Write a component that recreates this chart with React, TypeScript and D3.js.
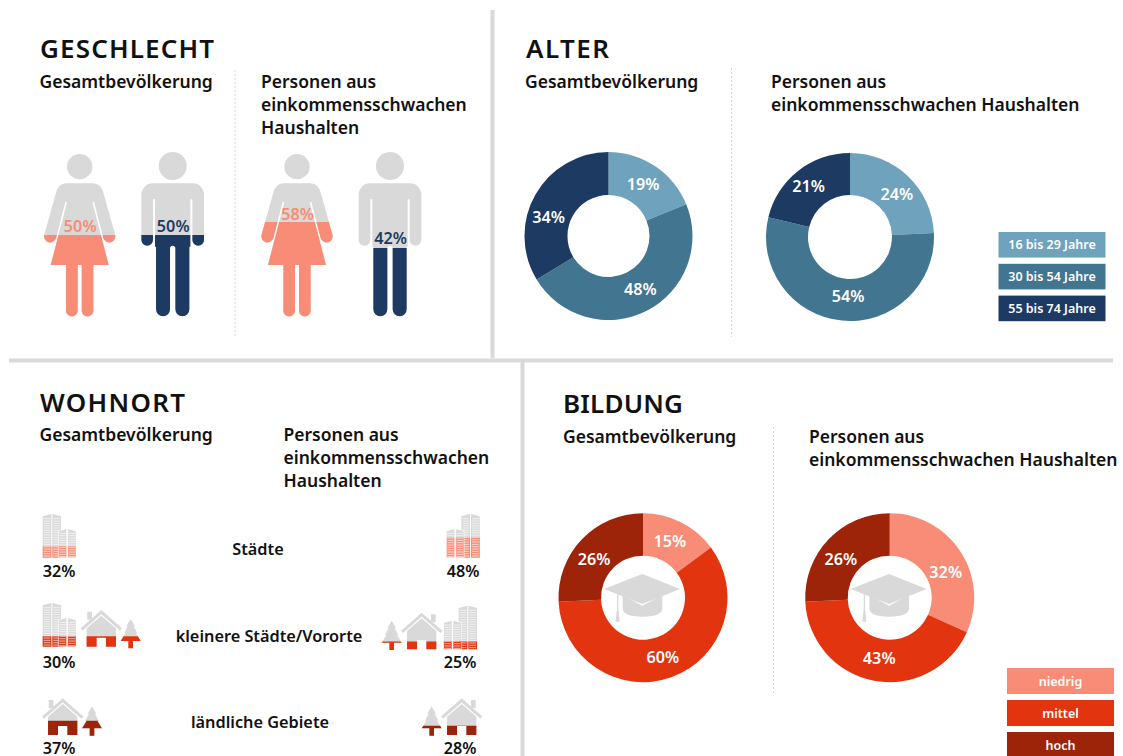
import React from "react";
import * as d3 from "d3";

const FONT = "'Noto Sans', sans-serif";
const GRAY = "#d9d9d9";
const SALMON = "#f88c76";
const NAVY = "#1d3a63";
const BLUES = ["#6fa3bd", "#42758f", "#1d3a63"];
const REDS = ["#f88c76", "#e2340f", "#9e2409"];

const ageLabels = ["16 bis 29 Jahre", "30 bis 54 Jahre", "55 bis 74 Jahre"];
const ageTotal = [19, 48, 34];
const ageLow = [24, 54, 21];
const eduLabels = ["niedrig", "mittel", "hoch"];
const eduTotal = [15, 60, 26];
const eduLow = [32, 43, 26];
const genderFigures = [
  { kind: "f", value: 50, cx: 79.7 },
  { kind: "m", value: 50, cx: 172.7 },
  { kind: "f", value: 58, cx: 297 },
  { kind: "m", value: 42, cx: 390 },
];
const placeLabels = ["Städte", "kleinere Städte/Vororte", "ländliche Gebiete"];
const placeTotal = [32, 30, 37];
const placeLow = [48, 25, 28];

const WOMAN =
  "M-40,130 H40 Q66,130 73,165 L106,283 A18,18 0 0 1 71,295 L43,186 H38 L87,375 H41 V512 A17.5,17.5 0 0 1 6,512 V375 H-6 V512 A17.5,17.5 0 0 1 -41,512 V375 H-87 L-38,186 H-43 L-71,295 A18,18 0 0 1 -106,283 L-73,165 Q-66,130 -40,130 Z";
const MAN =
  "M-60,130 H60 A34,34 0 0 1 94,164 V300 A17.5,17.5 0 0 1 59,300 V178 H53 V320 L50,320 V508 A21,21 0 0 1 8,508 V325 A8,8 0 0 0 -8,325 V508 A21,21 0 0 1 -50,508 V320 L-53,320 V178 H-59 V300 A17.5,17.5 0 0 1 -94,300 V164 A34,34 0 0 1 -60,130 Z";

const figureY = d3.scaleLinear().domain([0, 100]).range([317, 153]);
const fillHeight = d3.scaleLinear().domain([25, 48]).range([7.7, 20.3]);

function Figure({ kind, value, cx, id }: any) {
  const color = kind === "f" ? SALMON : NAVY;
  const level = figureY(value);
  const path = kind === "f" ? WOMAN : MAN;
  const headR = kind === "f" ? 38 : 42;
  const headY = kind === "f" ? 80 : 78;
  const labelY = kind === "f" ? (value === 50 ? 231.5 : 219.5) : value === 50 ? 231.5 : 244;
  return (
    <g>
      <g transform={`translate(${cx},140) scale(${1 / 3})`}>
        <circle cx={0} cy={headY} r={headR} fill={GRAY} />
        <path d={path} fill={GRAY} />
      </g>
      <clipPath id={id}>
        <rect x={cx - 50} y={level} width={100} height={317 - level + 2} />
      </clipPath>
      <g clipPath={`url(#${id})`}>
        <g transform={`translate(${cx},140) scale(${1 / 3})`}>
          <path d={path} fill={color} />
        </g>
      </g>
      <text x={cx + 0.5} y={labelY} textAnchor="middle" fontSize={16.2} fontWeight={600} fill={color}>
        {value}%
      </text>
    </g>
  );
}

function Donut({ values, cx, cy, colors, R, r, labelR, hat, nudge }: any) {
  const pie = d3.pie<number>().sort(null).value((d) => d);
  const arc = d3.arc<any>().innerRadius(r).outerRadius(R);
  const labelArc = d3.arc<any>().innerRadius(labelR).outerRadius(labelR);
  const arcs = pie(values);
  return (
    <g transform={`translate(${cx},${cy})`}>
      {arcs.map((a, i) => (
        <path key={i} d={arc(a) as string} fill={colors[i]} />
      ))}
      {hat && <Hat />}
      {arcs.map((a, i) => {
        const [x, y] = labelArc.centroid(a);
        return (
          <text key={i} x={x + nudge[i][0]} y={y + 5.5 + nudge[i][1]} textAnchor="middle" fontSize={16.2} fontWeight={600} fill="#fff">
            {values[i]}%
          </text>
        );
      })}
    </g>
  );
}

function Hat() {
  return (
    <g transform={`scale(${1 / 3})`} fill={GRAY}>
      <path d="M-61,-8 L-61,32 Q-61,57 -2,57 Q58,57 58,32 L58,-8 L-2,24 Z" />
      <path d="M-2,-71 L111,-26 L-2,19 L-117,-26 Z" />
      <rect x={-78} y={-16} width={4} height={58} />
      <path d="M-79,40 H-73 L-70,72 H-82 Z" />
    </g>
  );
}

function Legend({ labels, colors, x, y, w, h, step, size }: any) {
  return (
    <g>
      {labels.map((l: string, i: number) => (
        <g key={l}>
          <rect x={x} y={y + i * step} width={w} height={h} fill={colors[i]} />
          <text x={x + w / 2} y={y + i * step + h / 2 + size * 0.36} textAnchor="middle" fontSize={size} fontWeight={600} fill="#fff">
            {l}
          </text>
        </g>
      ))}
    </g>
  );
}

/* --- Pictograms, drawn in 1/3 px units with baseline at y = 0 --- */
function CityShape() {
  const stripes = (x0: number, x1: number, top: number) =>
    d3.range(top + 7, -2, 7).map((y) => (
      <line key={`${x0}-${y}`} x1={x0 + 3} x2={x1 - 3} y1={y} y2={y} stroke="#fff" strokeWidth={2.6} strokeOpacity={0.75} />
    ));
  return (
    <g>
      <path d="M0,0 V-124 L26,-131 V0 Z M29,0 V-131 L55,-124 V0 Z" />
      {stripes(0, 26, -124)}
      {stripes(29, 55, -124)}
      <path d="M47,0 V-80 L72,-87 V0 Z M75,0 V-87 L100,-80 V0 Z" stroke="#fff" strokeWidth={2} />
      {stripes(47, 72, -80)}
      {stripes(75, 100, -80)}
    </g>
  );
}
function HouseShape() {
  return (
    <g>
      <path d="M-44,-55 L0,-93 L44,-55 V0 H14 V-27 H-14 V0 H-44 Z" />
      <path d="M-59,-52 L0,-104 L59,-52" fill="none" stroke="currentColor" strokeWidth={9} />
      <rect x={-42} y={-105} width={14} height={24} />
    </g>
  );
}
function TreeShape() {
  return <path d="M0,-88 L13,-66 H9 L20,-45 H16 L30,-22 H7 V0 H-7 V-22 H-30 L-16,-45 H-20 L-9,-66 H-13 Z" />;
}

function Pictogram({ kind, x, bottom, mirror, level, color, id }: any) {
  const Shape = kind === "city" ? CityShape : kind === "house" ? HouseShape : TreeShape;
  const tf = `translate(${x},${bottom}) scale(${mirror ? -1 / 3 : 1 / 3},${1 / 3})`;
  const clipX = kind === "city" && mirror ? x - 40 : kind === "city" ? x - 2 : x - 25;
  return (
    <g>
      <g transform={tf} fill={GRAY} color={GRAY}>
        <Shape />
      </g>
      <clipPath id={id}>
        <rect x={clipX} y={level} width={kind === "city" ? 42 : 50} height={bottom + 4 - level} />
      </clipPath>
      <g clipPath={`url(#${id})`}>
        <g transform={tf} fill={color} color={color}>
          <Shape />
        </g>
      </g>
    </g>
  );
}

const placeRows = [
  {
    total: [{ kind: "city", x: 42.7, bottom: 557.7 }],
    low: [{ kind: "city", x: 479.7, bottom: 557.7, mirror: true }],
    rowBottomT: 557.7,
    rowBottomL: 557.7,
  },
  {
    total: [
      { kind: "city", x: 42.7, bottom: 646.7 },
      { kind: "house", x: 101.3, bottom: 646.7 },
      { kind: "tree", x: 130.7, bottom: 648.3 },
    ],
    low: [
      { kind: "tree", x: 391.7, bottom: 650, mirror: true },
      { kind: "house", x: 421.7, bottom: 649.3, mirror: true },
      { kind: "city", x: 477, bottom: 649.3, mirror: true },
    ],
    rowBottomT: 646.7,
    rowBottomL: 649.3,
  },
  {
    total: [
      { kind: "house", x: 62.7, bottom: 735 },
      { kind: "tree", x: 92, bottom: 735.7 },
    ],
    low: [
      { kind: "tree", x: 431.7, bottom: 735.7, mirror: true },
      { kind: "house", x: 461.7, bottom: 735, mirror: true },
    ],
    rowBottomT: 735,
    rowBottomL: 735,
  },
];

function Lines({ x, ys, lines }: any) {
  return (
    <text fontSize={17.5} fontWeight={600} fill="#111">
      {lines.map((l: string, i: number) => (
        <tspan key={i} x={x} y={ys + i * 23}>
          {l}
        </tspan>
      ))}
    </text>
  );
}

const SUB = "Gesamtbevölkerung";
const LOW3 = ["Personen aus", "einkommensschwachen", "Haushalten"];
const LOW2 = ["Personen aus", "einkommensschwachen Haushalten"];

const N_AGE_T = [[0, 0], [4, -2], [-6, 12]];
const N_AGE_L = [[4, 2], [4, -2], [-3, -2]];
const N_EDU_T = [[-1, -1], [-1, 1], [-4, 5]];
const N_EDU_L = [[4, 9], [1, 0], [-4, 5]];

export default function App() {
  const labelXT = [59, 59, 59];
  const labelXL = [463, 460, 460];
  const labelBase = [576.5, 668, 754];
  const centerX = [258, 269, 260];
  const centerY = [555, 642, 728];
  return (
    <svg width={1123} height={756} style={{ position: "absolute", left: 0, top: 0, display: "block" }} fontFamily={FONT}>
      <rect width={1123} height={756} fill="#fff" />
      {/* dividers */}
      <g fill={GRAY}>
        <rect x={490.5} y={10} width={4} height={348} />
        <rect x={9} y={358.5} width={1104} height={4} />
        <rect x={520.5} y={362} width={4} height={394} />
      </g>
      <g stroke="#d4d4d4" strokeDasharray="2 2" strokeWidth={1}>
        <line x1={235} x2={235} y1={70} y2={338} />
        <line x1={731.5} x2={731.5} y1={68} y2={337} />
        <line x1={773.5} x2={773.5} y1={427} y2={694} />
      </g>

      {/* headings */}
      <g fontSize={26} fontWeight={600} fill="#111" lengthAdjust="spacing">
        <text x={40} y={58} textLength={174}>GESCHLECHT</text>
        <text x={526} y={58} textLength={83}>ALTER</text>
        <text x={40} y={412} textLength={145}>WOHNORT</text>
        <text x={563} y={413} textLength={120}>BILDUNG</text>
      </g>
      <Lines x={39.5} ys={88} lines={[SUB]} />
      <Lines x={261} ys={88} lines={LOW3} />
      <Lines x={525} ys={88} lines={[SUB]} />
      <Lines x={771} ys={88} lines={LOW2} />
      <Lines x={39.5} ys={441} lines={[SUB]} />
      <Lines x={283.5} ys={441} lines={LOW3} />
      <Lines x={563} ys={443} lines={[SUB]} />
      <Lines x={809} ys={443} lines={LOW2} />

      {/* Geschlecht */}
      {genderFigures.map((f, i) => (
        <Figure key={i} {...f} id={`fig${i}`} />
      ))}

      {/* Alter */}
      <Donut values={ageTotal} cx={608.5} cy={236} R={84} r={41} labelR={62} colors={BLUES} nudge={N_AGE_T} />
      <Donut values={ageLow} cx={850} cy={237} R={84} r={42} labelR={62} colors={BLUES} nudge={N_AGE_L} />
      <Legend labels={ageLabels} colors={BLUES} x={998.5} y={232} w={107} h={25.6} step={31.8} size={12.5} />

      {/* Bildung */}
      <Donut values={eduTotal} cx={643} cy={597.7} R={84.5} r={42} labelR={62} colors={REDS} hat nudge={N_EDU_T} />
      <Donut values={eduLow} cx={889.7} cy={597.7} R={84.5} r={42} labelR={62} colors={REDS} hat nudge={N_EDU_L} />
      <Legend labels={eduLabels} colors={REDS} x={1007} y={668} w={107} h={26} step={32} size={12.5} />

      {/* Wohnort */}
      {placeRows.map((row, i) => (
        <g key={i}>
          {row.total.map((p: any, j: number) => (
            <Pictogram key={j} {...p} color={REDS[i]} id={`pt${i}${j}`} level={row.rowBottomT - fillHeight(placeTotal[i])} />
          ))}
          {row.low.map((p: any, j: number) => (
            <Pictogram key={j} {...p} color={REDS[i]} id={`pl${i}${j}`} level={row.rowBottomL - fillHeight(placeLow[i])} />
          ))}
          <text x={labelXT[i]} y={labelBase[i]} textAnchor="middle" fontSize={16.2} fontWeight={600} fill="#111">
            {placeTotal[i]}%
          </text>
          <text x={labelXL[i]} y={labelBase[i]} textAnchor="middle" fontSize={16.2} fontWeight={600} fill="#111">
            {placeLow[i]}%
          </text>
          <text x={centerX[i]} y={centerY[i]} textAnchor="middle" fontSize={16.3} fontWeight={600} fill="#111">
            {placeLabels[i]}
          </text>
        </g>
      ))}
    </svg>
  );
}
